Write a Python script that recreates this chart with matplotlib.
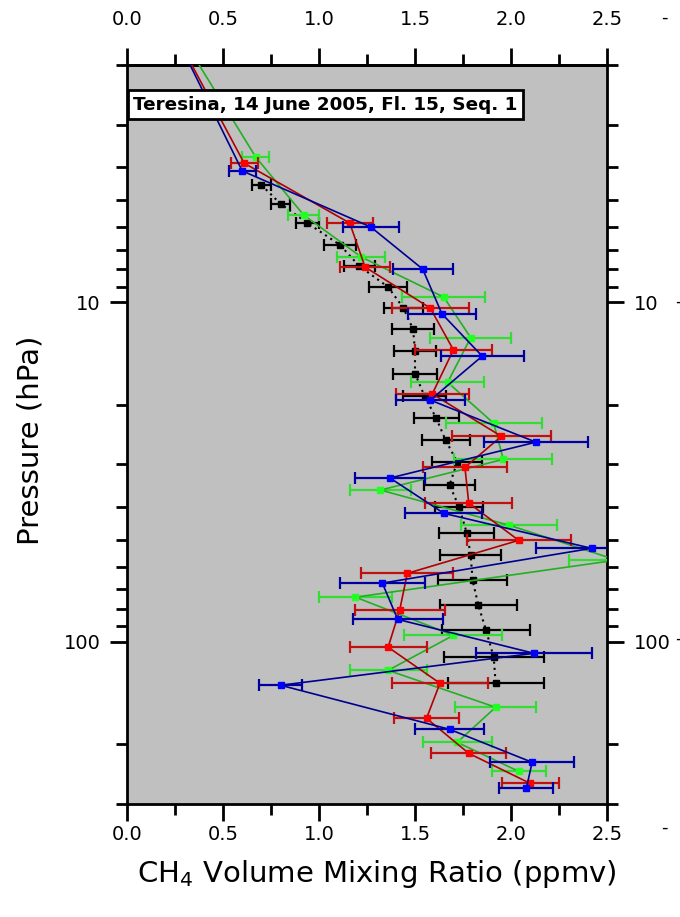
import matplotlib
matplotlib.use('Agg')
import matplotlib.pyplot as plt
from matplotlib.ticker import FixedLocator, NullFormatter, FuncFormatter, MultipleLocator

# black profile (dotted)
blk_x = [0.70, 0.80, 0.94, 1.11, 1.21, 1.36, 1.44, 1.49, 1.50, 1.50, 1.55, 1.61, 1.66, 1.72, 1.68,
         1.73, 1.77, 1.79, 1.80, 1.83, 1.87, 1.91, 1.92]
blk_p = [4.51, 5.13, 5.84, 6.78, 7.82, 9.01, 10.4, 12.0, 13.9, 16.2, 18.9, 21.9, 25.5, 29.5, 34.5,
         40.1, 47.8, 55.5, 65.8, 78.0, 92.4, 110.9, 132.3]
blk_e = [0.05, 0.05, 0.06, 0.085, 0.08, 0.10, 0.10, 0.11, 0.11, 0.115, 0.11, 0.117, 0.126, 0.13, 0.135,
         0.126, 0.143, 0.16, 0.18, 0.20, 0.23, 0.26, 0.25]

# red profile
red_x = [0.22, 0.61, 1.16, 1.24, 1.58, 1.70, 1.59, 1.95, 1.76, 1.78, 2.04, 1.46, 1.42, 1.36, 1.63,
         1.56, 1.78, 2.10]
red_p = [1.5, 3.89, 5.84, 7.87, 10.4, 13.8, 18.6, 24.8, 30.6, 39.0, 50.2, 62.8, 80.7, 103.6, 132.3,
         167.8, 212.8, 260.9]
red_e = [0, 0.07, 0.12, 0.13, 0.20, 0.20, 0.19, 0.256, 0.22, 0.226, 0.27, 0.24, 0.234, 0.20, 0.25,
         0.17, 0.195, 0.148]

# green profile
grn_x = [0.24, 0.67, 0.92, 1.22, 1.65, 1.79, 1.67, 1.91, 1.96, 1.32, 1.99, 2.55, 1.19, 1.70, 1.36,
         1.92, 1.72, 2.04]
grn_p = [1.5, 3.73, 5.53, 7.35, 9.65, 12.7, 17.2, 22.7, 29.0, 35.7, 45.3, 57.4, 73.8, 95.6, 121.2,
         155.7, 197.5, 240.4]
grn_e = [0, 0.07, 0.08, 0.125, 0.217, 0.21, 0.19, 0.25, 0.256, 0.158, 0.25, 0.25, 0.19, 0.255, 0.20,
         0.21, 0.18, 0.14]

# blue profile
blu_x = [0.22, 0.60, 1.27, 1.54, 1.64, 1.85, 1.58, 2.13, 1.37, 1.65, 2.42, 1.33, 1.41, 2.12, 0.80,
         1.68, 2.11, 2.08]
blu_p = [1.5, 4.10, 6.00, 7.98, 10.8, 14.4, 19.4, 25.8, 32.9, 41.8, 53.0, 67.1, 85.8, 108.0, 134.1,
         180.8, 226.1, 269.8]
blu_e = [0, 0.07, 0.147, 0.156, 0.178, 0.217, 0.178, 0.27, 0.18, 0.20, 0.29, 0.22, 0.234, 0.30, 0.11,
         0.18, 0.217, 0.14]

x_ticks = [0.0, 0.5, 1.0, 1.5, 2.0, 2.5]
y_ticks = [10, 100]
y_minor = [2, 3, 4, 5, 6, 7, 8, 9, 20, 30, 40, 50, 60, 70, 80, 90, 200, 300]

fig = plt.figure(figsize=(6.8, 9.17), dpi=100)
ax = fig.add_axes([127/680, 1-804/917, 480/680, 739/917])
ax.set_facecolor('#c0c0c0')

ax.errorbar(blk_x, blk_p, xerr=blk_e, fmt='s', ls=(0, (1, 2)), lw=1.5, color='black',
            ms=5, capsize=4, elinewidth=1.6, capthick=1.6, zorder=2)
ax.errorbar(grn_x, grn_p, xerr=grn_e, fmt='s-', lw=1.2, color='#22b022', ecolor='#33dd33',
            mfc='#22ff22', mec='#22ff22', ms=5, capsize=4, elinewidth=1.6, capthick=1.6, zorder=3)
ax.errorbar(red_x, red_p, xerr=red_e, fmt='s-', lw=1.2, color='#b00000', ecolor='#c01010',
            mfc='#ff0000', mec='#ff0000', ms=5, capsize=4, elinewidth=1.6, capthick=1.6, zorder=4)
ax.errorbar(blu_x, blu_p, xerr=blu_e, fmt='s-', lw=1.2, color='#000090', ecolor='#0000a0',
            mfc='#0000ff', mec='#0000ff', ms=5, capsize=4, elinewidth=1.6, capthick=1.6, zorder=5)

ax.set_yscale('log')
ax.set_ylim(300, 2)
ax.set_xlim(0, 2.5)

fmt_x = FuncFormatter(lambda v, pos: '%.1f' % v)
ax.xaxis.set_major_locator(FixedLocator(x_ticks))
ax.xaxis.set_minor_locator(MultipleLocator(0.25))
ax.xaxis.set_major_formatter(fmt_x)
ax.yaxis.set_major_locator(FixedLocator(y_ticks))
ax.yaxis.set_minor_locator(FixedLocator(y_minor))
ax.yaxis.set_major_formatter(FuncFormatter(lambda v, pos: '%d' % v))
ax.yaxis.set_minor_formatter(NullFormatter())

ax.tick_params(which='both', direction='out', top=False, right=True, labelright=True,
               width=2, labelsize=14)
ax.tick_params(which='major', length=12)
ax.tick_params(which='minor', length=8)
ax.tick_params(axis='y', which='major', pad=7)
ax.tick_params(axis='x', which='major', pad=3)
for s in ax.spines.values():
    s.set_linewidth(2)

# top axis with its own label spacing
top = ax.secondary_xaxis('top')
top.xaxis.set_major_locator(FixedLocator(x_ticks))
top.xaxis.set_minor_locator(MultipleLocator(0.25))
top.xaxis.set_major_formatter(fmt_x)
top.tick_params(which='both', direction='out', width=2, labelsize=14)
top.tick_params(which='major', length=12, pad=14)
top.tick_params(which='minor', length=8)
top.spines['top'].set_linewidth(2)

ax.text(0.013, 0.946, 'Teresina, 14 June 2005, Fl. 15, Seq. 1', transform=ax.transAxes,
        fontsize=13.2, fontweight='bold', va='center', ha='left', zorder=10,
        bbox=dict(boxstyle='square,pad=0.3', fc='white', ec='black', lw=2))

fig.text(30/680, 1-440/917, 'Pressure (hPa)', rotation=90, ha='center', va='center', fontsize=21)
fig.text(377/680, 1-874/917, 'CH$_4$ Volume Mixing Ratio (ppmv)', ha='center', va='center', fontsize=21)

for px, py in [(664, 18), (664, 828), (678, 302), (678, 639)]:
    fig.text(px/680, 1-py/917, '-', ha='center', va='center', fontsize=13)

fig.savefig('out.png', dpi=100)
